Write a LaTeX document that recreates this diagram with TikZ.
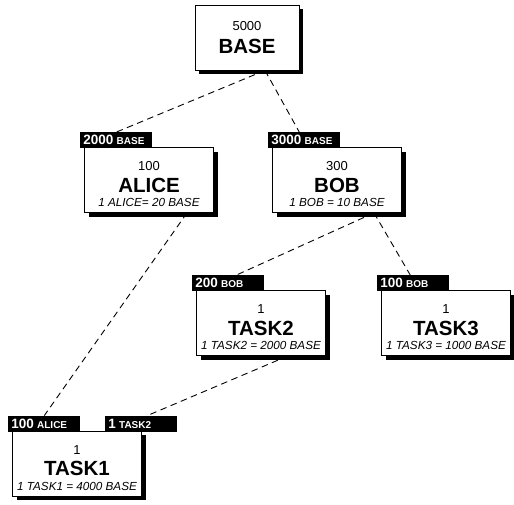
\documentclass[tikz,border=0pt]{standalone}
\usepackage{fontspec}
\setmainfont{Liberation Sans}
\usetikzlibrary{shadows}
\pgfdeclarelayer{back}
\pgfsetlayers{back,main}

\newcommand{\acct}[3]{{\fontsize{13}{14}\selectfont\rule{0pt}{17.5pt}#1}\\[6pt]
  {\fontsize{20.5}{21}\selectfont\bfseries #2}\\[2.5pt]
  {\fontsize{11.7}{12}\selectfont\itshape #3}}
\newcommand{\unitlabel}[2]{{\fontsize{13.5}{14}\selectfont\bfseries #1}
  {\fontsize{10}{10}\selectfont\bfseries #2}}

\begin{document}
\begin{tikzpicture}
[x=1pt, y=-1pt,
    account/.style={draw, line width=0.8pt, fill=white, minimum width=129pt,
        minimum height=65pt, align=center, inner sep=0pt,
        drop shadow={shadow xshift=4pt, shadow yshift=-4pt, fill=black, opacity=1}},
    unit tag/.style={fill=black, text=white, anchor=north west, minimum width=72pt,
        minimum height=16pt, inner xsep=3pt, inner ysep=0pt, text width=66pt, align=left},
    link/.style={dash pattern=on 6.5pt off 4.5pt, line width=0.9pt}]
\useasboundingbox (0,0) rectangle (514,504);

% accounts
\node [account, minimum width=104pt] (base) at (247,37.5)
    {{\fontsize{13}{14}\selectfont 5000}\\[7pt]{\fontsize{20.5}{21}\selectfont\bfseries BASE}};
\node [account] (alice) at (149,180) {\acct{100}{ALICE}{1 ALICE= 20 BASE}};
\node [account] (bob) at (337,180) {\acct{300}{BOB}{1 BOB = 10 BASE}};
\node [account] (task2) at (261,323) {\acct{1}{TASK2}{1 TASK2 = 2000 BASE}};
\node [account] (task3) at (446,323) {\acct{1}{TASK3}{1 TASK3 = 1000 BASE}};
\node [account] (task1) at (77,463.5) {\acct{1}{TASK1}{1 TASK1 = 4000 BASE}};

\begin{pgfonlayer}{back}
% holdings
\node [unit tag] (alicebase) at ([xshift=-4pt,yshift=15pt]alice.north west) {\unitlabel{2000}{BASE}};
\node [unit tag] (bobbase) at ([xshift=-4pt,yshift=15pt]bob.north west) {\unitlabel{3000}{BASE}};
\node [unit tag] (task2bob) at ([xshift=-4pt,yshift=15pt]task2.north west) {\unitlabel{200}{BOB}};
\node [unit tag] (task3bob) at ([xshift=-4pt,yshift=15pt]task3.north west) {\unitlabel{100}{BOB}};
\node [unit tag] (task1alice) at ([xshift=-4pt,yshift=15pt]task1.north west) {\unitlabel{100}{ALICE}};
\node [unit tag] (task1task2) at ([xshift=93pt,yshift=15pt]task1.north west) {\unitlabel{1}{TASK2}};

% links
\draw [link] ([xshift=18pt]base.south) -- (alicebase.north);
\draw [link] ([xshift=18pt]base.south) -- ([xshift=-5pt]bobbase.north);
\draw [link] ([xshift=38pt]alice.south) -- (task1alice.north);
\draw [link] ([xshift=37pt]bob.south) -- ([xshift=8pt]task2bob.north);
\draw [link] ([xshift=37pt]bob.south) -- ([xshift=-3pt]task3bob.north);
\draw [link] ([xshift=27pt]task2.south) -- ([xshift=6pt]task1task2.north);
\end{pgfonlayer}
\end{tikzpicture}
\end{document}
